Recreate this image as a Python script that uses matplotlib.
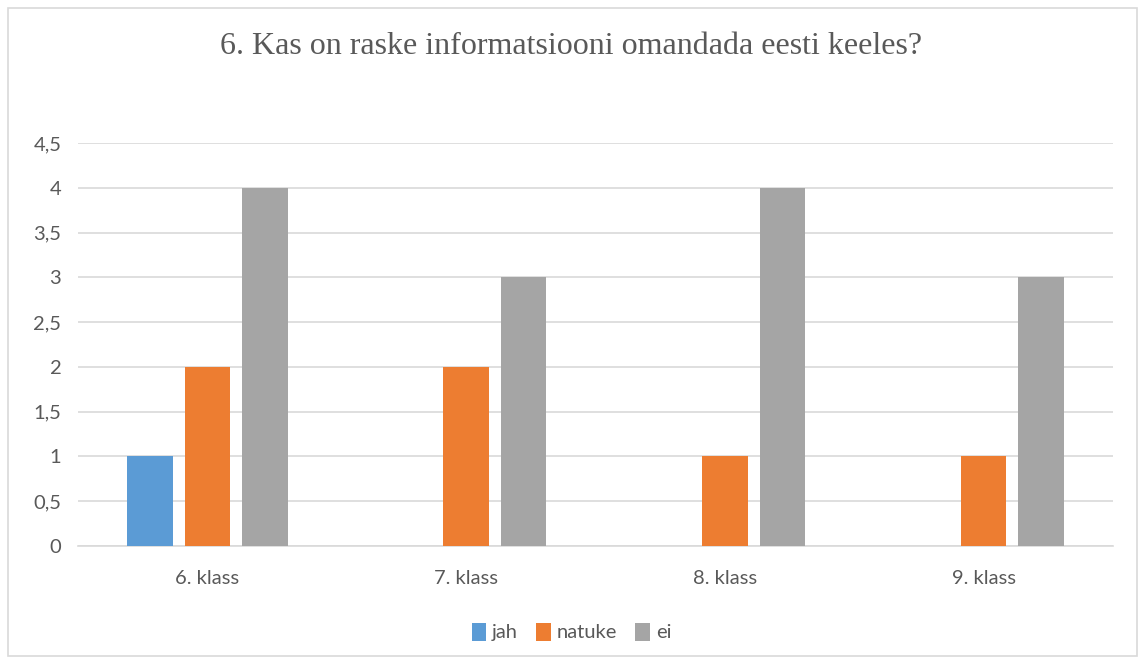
import numpy as np
import matplotlib.pyplot as plt
from matplotlib.patches import Rectangle

categories = ['6. klass', '7. klass', '8. klass', '9. klass']
series_names = ['jah', 'natuke', 'ei']
jah = [1, 0, 0, 0]
natuke = [2, 2, 1, 1]
ei = [4, 3, 4, 3]
colors = ['#5b9bd5', '#ed7d31', '#a5a5a5']
yticks = [0, 0.5, 1, 1.5, 2, 2.5, 3, 3.5, 4, 4.5]
ytick_labels = ['0', '0,5', '1', '1,5', '2', '2,5', '3', '3,5', '4', '4,5']

text_color = '#595959'
grid_color = '#d9d9d9'
label_font = ['Lato', 'DejaVu Sans']

fig = plt.figure(figsize=(11.43, 6.64), dpi=100)
fig.patch.set_facecolor('white')
fig.patches.append(Rectangle((8 / 1143, 8 / 664), 1129 / 1143, 648 / 664,
                             transform=fig.transFigure, fill=False,
                             edgecolor=grid_color, linewidth=1.2))

ax = fig.add_axes([78 / 1143, 1 - 546 / 664, 1035 / 1143, 403 / 664])

x = np.arange(len(categories))
width = 0.176
step = 0.222
for i, (vals, name) in enumerate(zip([jah, natuke, ei], series_names)):
    ax.bar(x + (i - 1) * step, vals, width, color=colors[i], label=name, zorder=3)

ax.set_xlim(-0.5, len(categories) - 0.5)
ax.set_ylim(0, 4.5)
ax.set_yticks(yticks)
ax.set_yticklabels(ytick_labels)
ax.set_xticks(x)
ax.set_xticklabels(categories)
ax.yaxis.grid(True, color=grid_color, linewidth=1.2, zorder=0)
ax.tick_params(length=0, labelsize=14.5, labelcolor=text_color)
ax.tick_params(axis='y', pad=12)
ax.tick_params(axis='x', pad=17)
for lbl in ax.get_xticklabels() + ax.get_yticklabels():
    lbl.set_family(label_font)
for side in ['top', 'right', 'left']:
    ax.spines[side].set_visible(False)
ax.spines['bottom'].set_color(grid_color)
ax.spines['bottom'].set_linewidth(1.2)

fig.text(0.5, 1 - 47 / 664, '6. Kas on raske informatsiooni omandada eesti keeles?',
         ha='center', va='center', fontsize=23, color=text_color,
         family=['Liberation Serif', 'DejaVu Serif'])

fig.legend(loc='center', bbox_to_anchor=(0.5, 1 - 632 / 664), ncol=3, frameon=False,
           prop={'family': label_font, 'size': 14.5},
           labelcolor=text_color, handlelength=0.72, handleheight=1.0,
           handletextpad=0.3, columnspacing=0.9)

fig.savefig('out.png', dpi=100)
